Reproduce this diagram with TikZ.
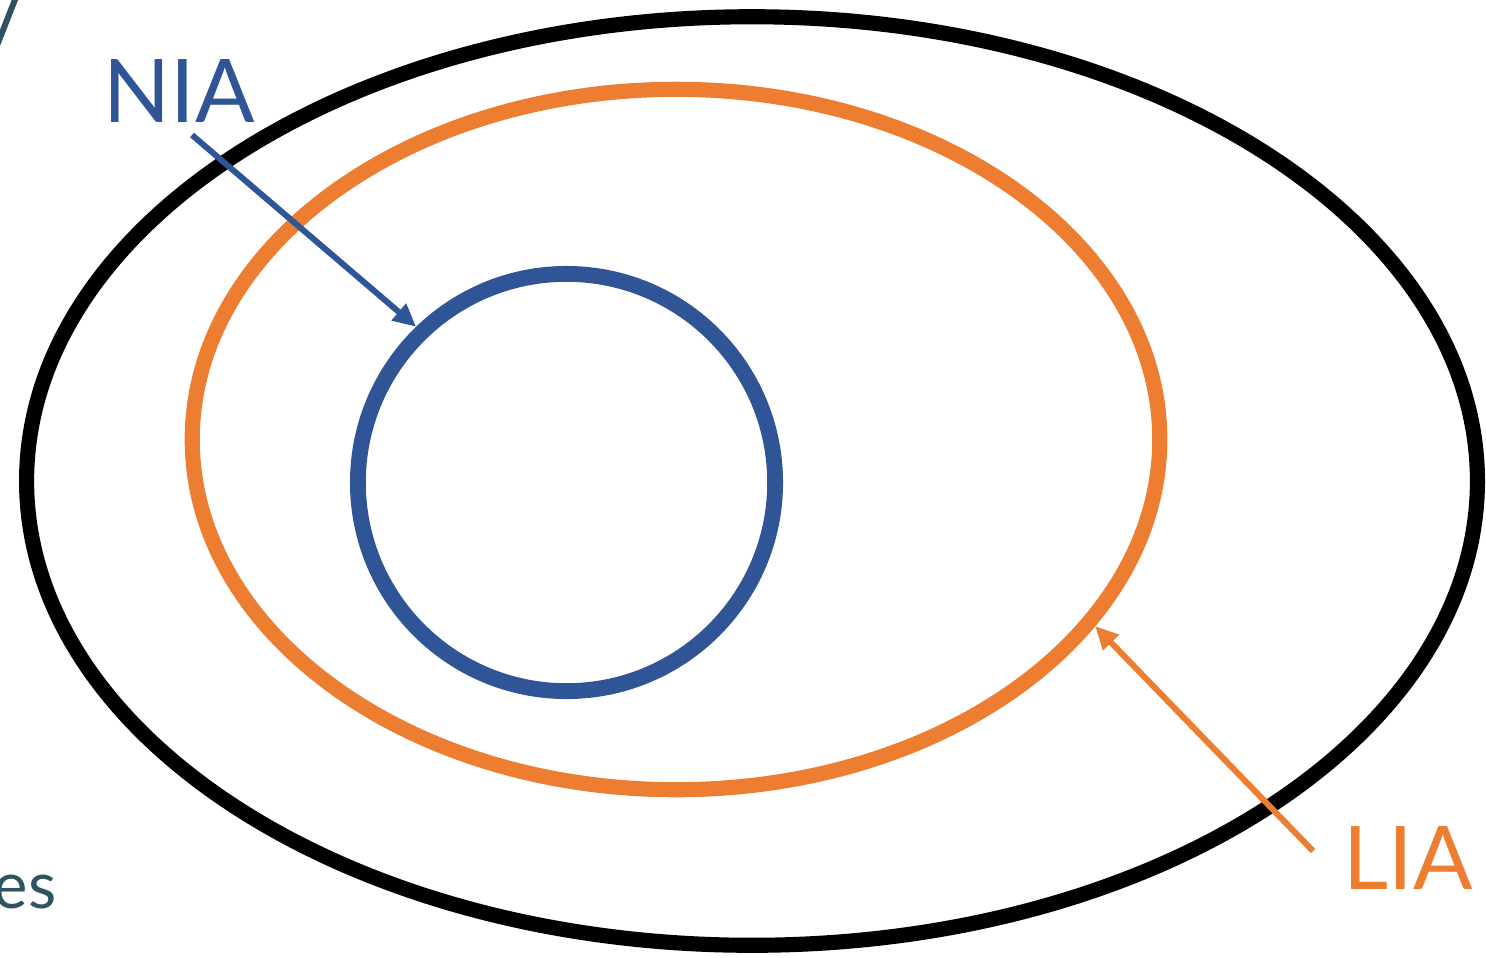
\documentclass[tikz,border=0pt]{standalone}
\usepackage{fontspec}
\usepackage{xcolor}
\usepackage{tikz}
\usetikzlibrary{arrows.meta,shapes.geometric}
\newfontfamily\lblfont{Lato}
\definecolor{niablue}{HTML}{2F5597}
\definecolor{liaorange}{HTML}{ED7D31}
\definecolor{slateteal}{HTML}{2E5461}
\tikzset{
	ring/.style={draw, ellipse, inner sep=0pt, line width=4.3pt},
	tag/.style={font=\lblfont\fontsize{25}{30}\selectfont, inner sep=0pt},
	ptr/.style={line width=1.7pt, -{Triangle[length=6.5pt, width=6pt]}},
}

\begin{document}
\begin{tikzpicture}[x=0.01cm, y=-0.01cm]
	\useasboundingbox (0,0) rectangle (1486,957);
	% rings
	\node[ring, minimum width=14.5cm, minimum height=9.28cm] at (752,481) (outer) {};
	\node[ring, draw=liaorange, minimum width=9.67cm, minimum height=7.0cm] at (676,439.5) (lia) {};
	\node[ring, draw=niablue, line width=4.5pt, minimum width=4.17cm, minimum height=4.17cm] at (566.5,482.5) (nia) {};
	% labels
	\node[tag, text=niablue, anchor=base west] at (103,122) (nialbl) {NIA};
	\node[tag, text=liaorange, anchor=base west] at (1343,889) (lialbl) {LIA};
	\coordinate (niastart) at (192,135);
	\coordinate (liastart) at (1313,851);
	\draw[ptr, niablue] (niastart) -- (nia.134.4);
	\draw[ptr, liaorange] (liastart) -- (lia.-24.1);
	% cut-off slide remnants
	\begin{scope}
		\clip (0,0) rectangle (1486,957);
		\draw[slateteal, line width=1.7pt] (-4,48) -- (18,-8);
		\node[font=\lblfont\fontsize{18.5}{22}\selectfont, text=slateteal, inner sep=0pt, anchor=base east] at (57,908) (eslbl) {es};
	\end{scope}
\end{tikzpicture}
\end{document}
